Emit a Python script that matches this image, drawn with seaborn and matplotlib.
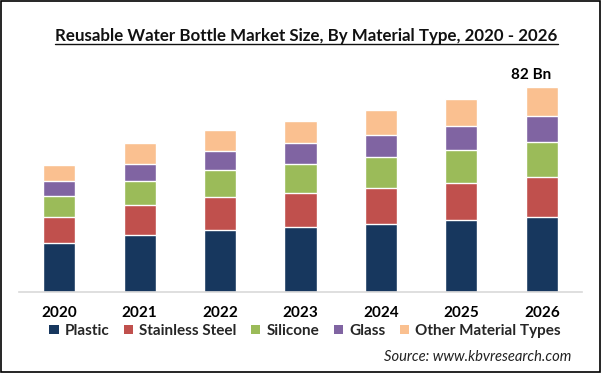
import matplotlib
matplotlib.use("Agg")
import matplotlib.pyplot as plt
from matplotlib.lines import Line2D
from matplotlib.patches import Patch, Rectangle
import numpy as np
import pandas as pd
import seaborn as sns

years = ["2020", "2021", "2022", "2023", "2024", "2025", "2026"]
plastic = [19.8, 22.8, 24.8, 25.9, 27.2, 28.8, 30.2]
stainless_steel = [10.4, 12.1, 13.3, 13.6, 14.3, 14.7, 16.0]
silicone = [8.3, 9.6, 10.7, 11.7, 12.7, 13.3, 13.9]
glass = [6.1, 6.7, 7.7, 8.3, 8.7, 9.6, 10.4]
other = [6.3, 8.3, 8.3, 8.9, 10.0, 10.8, 11.5]

series_names = ["Plastic", "Stainless Steel", "Silicone", "Glass", "Other Material Types"]
colors = ["#17375E", "#C0504D", "#9BBB59", "#8064A2", "#FAC090"]
total_label = "82 Bn"

W, H = 601, 374
sns.set_theme(style="white")
plt.rcParams["font.family"] = ["Lato", "DejaVu Sans"]

fig = plt.figure(figsize=(W / 100, H / 100), dpi=100)
fig.patch.set_facecolor("white")
ax = fig.add_axes([19 / W, (H - 292) / H, 563 / W, 232 / H])

df = pd.DataFrame(
    {
        "year": years,
        "Plastic": plastic,
        "Stainless Steel": stainless_steel,
        "Silicone": silicone,
        "Glass": glass,
        "Other Material Types": other,
    }
)
cum = df[series_names].cumsum(axis=1)

# draw tallest stack first, then overlay shorter cumulative bars
for name, color in reversed(list(zip(series_names, colors))):
    sns.barplot(
        x=df["year"],
        y=cum[name],
        color=color,
        saturation=1,
        width=0.4,
        errorbar=None,
        ax=ax,
    )

ax.set_xlim(-0.5, 6.5)
ax.set_ylim(0, 232 / 2.496)
ax.set_xlabel("")
ax.set_ylabel("")
ax.set_yticks([])
for side in ["top", "left", "right"]:
    ax.spines[side].set_visible(False)
ax.spines["bottom"].set_color("#D9D9D9")
ax.spines["bottom"].set_linewidth(1.2)
ax.tick_params(axis="x", length=0, pad=10, labelsize=11)
for lbl in ax.get_xticklabels():
    lbl.set_fontweight("bold")
    lbl.set_color("black")

last_total = cum[series_names[-1]].iloc[-1]
ax.annotate(
    total_label,
    xy=(len(years) - 1, last_total),
    xytext=(-11, 12),
    textcoords="offset pixels",
    ha="center",
    va="center",
    fontsize=11,
    fontweight="bold",
    color="black",
    annotation_clip=False,
)

title = fig.text(
    306.5 / W,
    1 - 40.5 / H,
    "Reusable Water Bottle Market Size, By Material Type, 2020 - 2026",
    ha="center",
    va="baseline",
    fontsize=12.2,
    fontweight="bold",
    color="#111111",
)

handles = [Patch(facecolor=c, edgecolor="none") for c in colors]
fig.legend(
    handles,
    series_names,
    loc="center",
    bbox_to_anchor=(305 / W, 1 - 331 / H),
    ncol=5,
    frameon=False,
    handlelength=0.6,
    handleheight=0.6,
    handletextpad=0.4,
    columnspacing=0.95,
    prop={"weight": "bold", "size": 11},
)

fig.text(
    571 / W,
    1 - 357 / H,
    "Source: www.kbvresearch.com",
    ha="right",
    va="center",
    fontsize=10.6,
    style="italic",
    color="#222222",
)

fig.add_artist(
    Rectangle((0.5 / W, 2 / H), (W - 2) / W, (H - 2.5) / H, transform=fig.transFigure,
              fill=False, edgecolor="black", linewidth=1.2)
)

fig.canvas.draw()
bb = title.get_window_extent()
y_line = 1 - 44 / H
fig.add_artist(
    Line2D([bb.x0 / W, bb.x1 / W], [y_line, y_line], transform=fig.transFigure,
           color="#111111", linewidth=1.0)
)

fig.savefig("out.png", dpi=100)
